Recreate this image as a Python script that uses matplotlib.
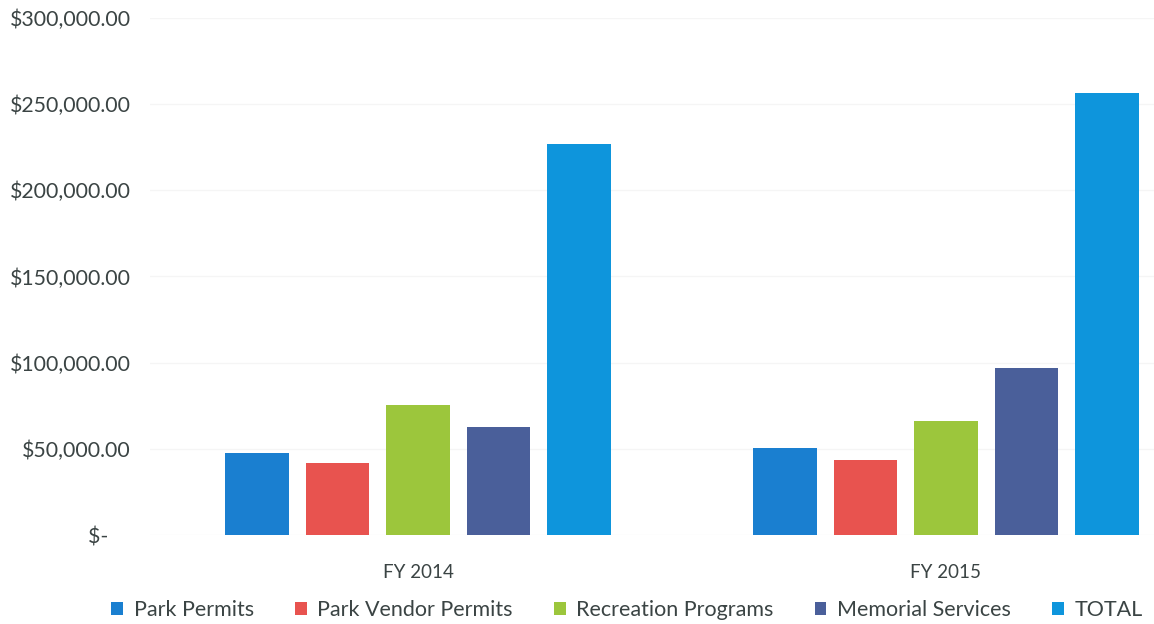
import matplotlib
matplotlib.use("Agg")
import matplotlib.pyplot as plt
from matplotlib.ticker import FixedLocator
import numpy as np

categories = ["FY 2014", "FY 2015"]
series_names = ["Park Permits", "Park Vendor Permits", "Recreation Programs", "Memorial Services", "TOTAL"]
park_permits = [47600, 50500]
park_vendor_permits = [41800, 43500]
recreation_programs = [75400, 66200]
memorial_services = [62700, 96900]
total = [226900, 256500]
series_values = [park_permits, park_vendor_permits, recreation_programs, memorial_services, total]
colors = ["#1a7fd0", "#e8534f", "#9cc63c", "#4a5f9a", "#0e95dc"]
y_ticks = [0, 50000, 100000, 150000, 200000, 250000, 300000]
y_tick_labels = ["$-    ", "$50,000.00", "$100,000.00", "$150,000.00", "$200,000.00", "$250,000.00", "$300,000.00"]

plt.rcParams['font.family'] = ['Lato', 'DejaVu Sans']
text_color = "#3b4444"

fig = plt.figure(figsize=(11.54, 6.24), dpi=100)
ax = fig.add_axes([150/1154, 89/624, (1154-150)/1154, (535-18)/624])

x = np.arange(len(categories))
width = 0.121
step = 0.1525
for i, (name, vals, c) in enumerate(zip(series_names, series_values, colors)):
    ax.bar(x + (i - 2) * step, vals, width=width, color=c, label=name, zorder=3)

ax.set_ylim(0, 300000)
ax.set_xlim(-0.5076, 1.394)
ax.yaxis.set_major_locator(FixedLocator(y_ticks))
ax.set_yticklabels(y_tick_labels)
ax.set_xticks(x)
ax.set_xticklabels(categories)
ax.tick_params(axis='y', length=0, pad=14, labelsize=15.3, labelcolor=text_color)
ax.tick_params(axis='x', length=0, pad=21, labelsize=13.5, labelcolor=text_color)
for s in ax.spines.values():
    s.set_visible(False)
ax.grid(axis='y', color="#f5f5f5", linewidth=1, zorder=0)

leg = fig.legend(loc='center', bbox_to_anchor=(627/1154, 1 - 610/624), ncol=5, frameon=False,
                 fontsize=15.5, handlelength=0.55, handleheight=0.55, handletextpad=0.5,
                 columnspacing=1.9, labelcolor=text_color)

fig.savefig("out.png", dpi=100, facecolor="white")
